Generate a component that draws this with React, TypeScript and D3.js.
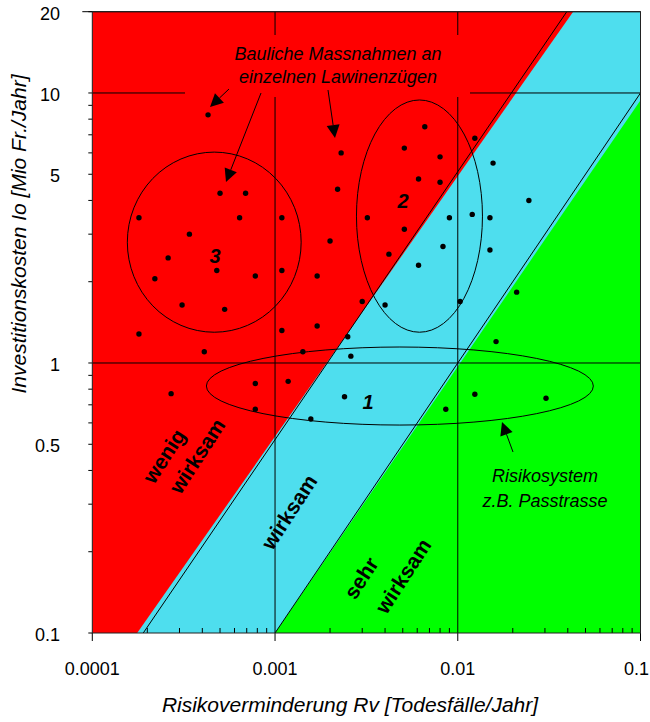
import { useEffect, useRef } from 'react'
import * as d3 from 'd3'

const FONT = '"Liberation Sans", Arial, Helvetica, sans-serif'

const RED = '#ff0000'
const CYAN = '#4edeee'
const GREEN = '#00ff00'

// axis ticks
const X_TICKS = [0.0001, 0.001, 0.01, 0.1]
const X_TICK_LABELS = ['0.0001', '0.001', '0.01', '0.1']
const Y_TICKS = [0.1, 0.5, 1, 5, 10, 20]
const Y_TICK_LABELS = ['0.1', '0.5', '1', '5', '10', '20']
const X_GRID = [0.001, 0.01]
const Y_GRID = [1, 10]

// measures: [Rv, Io]
const MEASURES: [number, number][] = [
  [0.00043, 8.3], [0.0005, 4.25], [0.00069, 4.25], [0.00018, 3.45], [0.00064, 3.45],
  [0.00109, 3.45], [0.00034, 3.0], [0.00026, 2.45], [0.00048, 2.2], [0.00022, 2.05],
  [0.00078, 2.1], [0.00109, 2.2], [0.0017, 2.1], [0.00031, 1.64], [0.00053, 1.58],
  [0.00018, 1.28], [0.00109, 1.32], [0.0017, 1.37], [0.00041, 1.1], [0.00142, 1.1],
  [0.0066, 7.5], [0.0124, 6.8], [0.0023, 6.0], [0.0051, 6.25], [0.008, 5.8],
  [0.0156, 5.5], [0.0022, 4.4], [0.0061, 4.8], [0.008, 4.67], [0.0245, 4.0],
  [0.0032, 3.45], [0.009, 3.45], [0.012, 3.55], [0.015, 3.45], [0.002, 2.83],
  [0.0051, 3.13], [0.0083, 2.7], [0.015, 2.62], [0.0042, 2.53], [0.0061, 2.3],
  [0.021, 1.83], [0.003, 1.69], [0.004, 1.64], [0.0103, 1.69], [0.0025, 1.25],
  [0.0026, 1.06], [0.0162, 1.2], [0.00027, 0.77], [0.00078, 0.84], [0.00118, 0.855],
  [0.00078, 0.674], [0.00157, 0.62], [0.0024, 0.75], [0.0086, 0.674], [0.0124, 0.766],
  [0.0304, 0.74],
]

// zones
const RED_ZONE: [number, number][] = [[0.0001, 0.1], [0.000176, 0.1], [0.0428, 20], [0.0001, 20]]
const GREEN_ZONE: [number, number][] = [[0.001, 0.1], [0.1, 0.1], [0.1, 9.4]]
const BOUNDARIES: [number, number][][] = [
  [[0.00019, 0.1], [0.0395, 20]],
  [[0.001, 0.1], [0.1, 10]],
]

// groups: Rv range, Io range, label position
const GROUPS = [
  { label: '1', rv: [0.000421, 0.0552], io: [0.589, 1.146], at: [0.00323, 0.716] },
  { label: '2', rv: [0.00279, 0.01365], io: [1.3, 9.42], at: [0.00502, 3.97] },
  { label: '3', rv: [0.0001555, 0.00139], io: [1.3, 6.04], at: [0.00047, 2.49] },
]

const ZONE_LABELS = [
  { text: 'wenig', x: 164, y: 456 },
  { text: 'wirksam', x: 197, y: 456 },
  { text: 'wirksam', x: 289, y: 512 },
  { text: 'sehr', x: 361, y: 578 },
  { text: 'wirksam', x: 403, y: 576 },
]

const ARROWS = [
  [229, 89, 210, 107],
  [261, 93, 226, 182],
  [328, 90, 335, 138],
  [513, 452, 502, 422],
]

export default function App() {
  const svgRef = useRef<SVGSVGElement>(null)
  const WIDTH = 650
  const HEIGHT = 722
  const L = 92.3, R = 640.5, T = 11.7, B = 633

  useEffect(() => {
    document.body.style.margin = '0'
    if (!svgRef.current) return
    const svg = d3.select(svgRef.current)
    svg.selectAll('*').remove()

    const x = d3.scaleLog().domain([0.0001, 0.1]).range([L, R])
    const y = d3.scaleLog().domain([0.1, 20]).range([B, T])
    const pt = (d: [number, number]) => `${x(d[0])},${y(d[1])}`

    // background zones
    svg.append('rect').attr('x', L).attr('y', T).attr('width', R - L).attr('height', B - T).attr('fill', CYAN)
    svg.append('polygon').attr('points', RED_ZONE.map(pt).join(' ')).attr('fill', RED)
    svg.append('polygon').attr('points', GREEN_ZONE.map(pt).join(' ')).attr('fill', GREEN)

    // grid
    X_GRID.forEach(v => svg.append('line').attr('x1', x(v)).attr('x2', x(v)).attr('y1', T).attr('y2', B)
      .attr('stroke', '#000').attr('stroke-width', 1))
    Y_GRID.forEach(v => svg.append('line').attr('x1', L).attr('x2', R).attr('y1', y(v)).attr('y2', y(v))
      .attr('stroke', '#000').attr('stroke-width', 1))

    // boundary lines
    BOUNDARIES.forEach(b => svg.append('line')
      .attr('x1', x(b[0][0])).attr('y1', y(b[0][1])).attr('x2', x(b[1][0])).attr('y2', y(b[1][1]))
      .attr('stroke', '#000').attr('stroke-width', 1))

    // annotation box top
    svg.append('rect').attr('x', 185).attr('y', 35).attr('width', 285).attr('height', 62).attr('fill', RED)
    const note = svg.append('text').attr('font-family', FONT).attr('font-size', 18)
      .attr('font-style', 'italic').attr('text-anchor', 'middle').attr('fill', '#000')
    note.append('tspan').attr('x', 338).attr('y', 60).text('Bauliche Massnahmen an')
    note.append('tspan').attr('x', 338).attr('y', 83).text('einzelnen Lawinenzügen')

    const note2 = svg.append('text').attr('font-family', FONT).attr('font-size', 18)
      .attr('font-style', 'italic').attr('text-anchor', 'middle').attr('fill', '#000')
    note2.append('tspan').attr('x', 545).attr('y', 482).text('Risikosystem')
    note2.append('tspan').attr('x', 545).attr('y', 507).text('z.B. Passtrasse')

    // ellipses
    GROUPS.forEach(gr => {
      const x0 = x(gr.rv[0]), x1 = x(gr.rv[1])
      const y0 = y(gr.io[1]), y1 = y(gr.io[0])
      svg.append('ellipse').attr('cx', (x0 + x1) / 2).attr('cy', (y0 + y1) / 2)
        .attr('rx', (x1 - x0) / 2).attr('ry', (y1 - y0) / 2)
        .attr('fill', 'none').attr('stroke', '#000').attr('stroke-width', 1)
    })

    // measures
    MEASURES.forEach(d => svg.append('circle').attr('cx', x(d[0])).attr('cy', y(d[1])).attr('r', 2.7).attr('fill', '#000'))

    // group numbers
    GROUPS.forEach(gr => svg.append('text').attr('x', x(gr.at[0])).attr('y', y(gr.at[1]))
      .attr('font-family', FONT).attr('font-size', 20).attr('font-weight', 'bold').attr('font-style', 'italic')
      .attr('text-anchor', 'middle').attr('dominant-baseline', 'central').text(gr.label))

    // zone labels
    ZONE_LABELS.forEach(z => svg.append('text')
      .attr('transform', `translate(${z.x},${z.y}) rotate(-57)`)
      .attr('font-family', FONT).attr('font-size', 21).attr('font-weight', 'bold')
      .attr('text-anchor', 'middle').attr('dominant-baseline', 'central').text(z.text))

    // arrows
    ARROWS.forEach(([x1, y1, x2, y2]) => {
      const a = Math.atan2(y2 - y1, x2 - x1)
      const len = 13, w = 6.5
      const bx = x2 - len * Math.cos(a), by = y2 - len * Math.sin(a)
      svg.append('line').attr('x1', x1).attr('y1', y1).attr('x2', bx).attr('y2', by)
        .attr('stroke', '#000').attr('stroke-width', 1)
      svg.append('polygon').attr('points', [
        [x2, y2], [bx + w * Math.sin(a), by - w * Math.cos(a)], [bx - w * Math.sin(a), by + w * Math.cos(a)],
      ].map(p => p.join(',')).join(' ')).attr('fill', '#000')
    })

    // x ticks: minor inside, major outside
    x.ticks().forEach(v => {
      const major = X_TICKS.some(t => Math.abs(Math.log10(t) - Math.log10(v)) < 1e-6)
      svg.append('line').attr('x1', x(v)).attr('x2', x(v))
        .attr('y1', major ? B : B - 5).attr('y2', major ? B + 8 : B)
        .attr('stroke', '#000').attr('stroke-width', 1)
    })
    X_TICKS.forEach((v, i) => {
      const last = i === X_TICKS.length - 1
      svg.append('text').attr('x', last ? WIDTH - 1 : x(v)).attr('y', B + 42)
        .attr('font-family', FONT).attr('font-size', 18).attr('text-anchor', last ? 'end' : 'middle')
        .text(X_TICK_LABELS[i])
    })

    // y ticks: all outside
    y.ticks().forEach(v => svg.append('line').attr('x1', L - 4).attr('x2', L).attr('y1', y(v)).attr('y2', y(v))
      .attr('stroke', '#000').attr('stroke-width', 1))
    Y_TICKS.forEach((v, i) => svg.append('text').attr('x', 60).attr('y', y(v) + 8)
      .attr('font-family', FONT).attr('font-size', 18).attr('text-anchor', 'end').text(Y_TICK_LABELS[i]))

    // frame
    svg.append('line').attr('x1', L - 10).attr('x2', R).attr('y1', T).attr('y2', T).attr('stroke', '#000')
    svg.append('rect').attr('x', L).attr('y', T).attr('width', R - L).attr('height', B - T)
      .attr('fill', 'none').attr('stroke', '#222').attr('stroke-width', 1)

    // axis titles
    svg.append('text').attr('x', 350).attr('y', 712)
      .attr('font-family', FONT).attr('font-size', 21).attr('font-style', 'italic').attr('text-anchor', 'middle')
      .text('Risikoverminderung Rv [Todesfälle/Jahr]')
    svg.append('text').attr('transform', 'translate(26,234) rotate(-90)')
      .attr('font-family', FONT).attr('font-size', 21).attr('font-style', 'italic').attr('text-anchor', 'middle')
      .text('Investitionskosten Io [Mio Fr./Jahr]')
  }, [])

  return <svg ref={svgRef} width={WIDTH} height={HEIGHT} style={{ display: 'block', background: '#fff' }} />
}
